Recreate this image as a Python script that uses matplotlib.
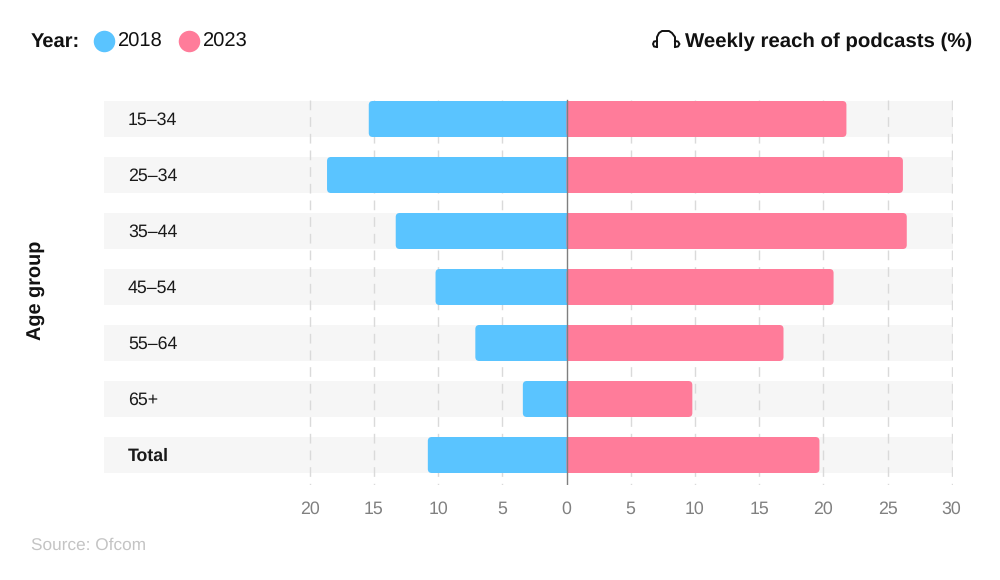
import matplotlib
matplotlib.use("Agg")
from matplotlib import pyplot as plt
from matplotlib.patches import FancyBboxPatch, Rectangle

plt.rcParams['font.family'] = ['Liberation Sans', 'DejaVu Sans']
plt.rcParams['text.hinting'] = 'no_hinting'

age_groups = ["15–34", "25–34", "35–44", "45–54", "55–64", "65+", "Total"]
reach_2018 = [15.4, 18.65, 13.3, 10.2, 7.1, 3.4, 10.8]
reach_2023 = [21.8, 26.2, 26.5, 20.8, 16.9, 9.8, 19.7]
x_ticks = [-20, -15, -10, -5, 0, 5, 10, 15, 20, 25, 30]

BLUE = "#5AC4FF"
PINK = "#FF7C9A"
ROW_BG = "#F6F6F6"
GRID = "#DADADA"
GREY_TEXT = "#808080"

W, H = 1000, 580
PX_PER_UNIT = 12.84
ROW_PX = 56
BAR_H = 36 / ROW_PX


def draw_bar(ax, row, value, color):
    """Bar from zero with rounded corners on the outer end only."""
    radius = 4 / PX_PER_UNIT
    x0 = min(0, value)
    box = FancyBboxPatch((x0, row - BAR_H / 2), abs(value), BAR_H,
                         boxstyle=f"round,pad=0,rounding_size={radius}",
                         mutation_aspect=PX_PER_UNIT / ROW_PX,
                         fc=color, ec="none", zorder=3)
    ax.add_patch(box)
    ax.add_patch(Rectangle((0, row - BAR_H / 2), value / 2, BAR_H,
                           fc=color, ec="none", zorder=3))


fig = plt.figure(figsize=(W / 100, H / 100), dpi=100)

# plot area in pixels: x 104-952, y 91-485
left, right, top, bottom = 104, 952.5, 91, 485
ax = fig.add_axes([left / W, 1 - bottom / H, (right - left) / W, (bottom - top) / H])
ax.set_xlim((left - 566.5) / PX_PER_UNIT, (right - 566.5) / PX_PER_UNIT)
ax.set_ylim((bottom - 119) / ROW_PX, (top - 119) / ROW_PX)
ax.patch.set_visible(False)
for s in ax.spines.values():
    s.set_visible(False)

for i, name in enumerate(age_groups):
    ax.barh(i, ax.get_xlim()[1] - ax.get_xlim()[0], left=ax.get_xlim()[0],
            height=BAR_H, color=ROW_BG, zorder=0)
    draw_bar(ax, i, -reach_2018[i], BLUE)
    draw_bar(ax, i, reach_2023[i], PINK)

for t in x_ticks:
    if t != 0:
        ax.plot([t, t], [(100 - 119) / ROW_PX, (bottom - 119) / ROW_PX], color=GRID, lw=1,
                dashes=(7, 5), zorder=1)
ax.plot([0, 0], [(100 - 119) / ROW_PX, (bottom - 119) / ROW_PX], color="#7F7F7F", lw=1, zorder=4)

ax.set_xticks(x_ticks)
ax.set_xticklabels([str(abs(t)) for t in x_ticks], fontsize=12.8, color=GREY_TEXT)
ax.tick_params(axis='x', length=0, pad=11.5)
ax.set_yticks([])

# overlay in pixel coordinates for legend, titles and icon
ov = fig.add_axes([0, 0, 1, 1])
ov.set_xlim(0, W)
ov.set_ylim(H, 0)
ov.axis("off")
ov.patch.set_visible(False)

for i, name in enumerate(age_groups):
    ov.text(128, 120.5 + i * ROW_PX, name, fontsize=12.8, color="#1A1A1A", va="center",
            fontweight="bold" if name == "Total" else "normal")

ov.text(31, 42, "Year:", fontsize=14.5, fontweight="bold", color="#111111", va="center")
ov.scatter([103.5], [41], s=240, color=BLUE, lw=0)
ov.text(118, 42, "2018", fontsize=14.5, color="#111111", va="center")
ov.scatter([188.5], [41], s=240, color=PINK, lw=0)
ov.text(203, 42, "2023", fontsize=14.5, color="#111111", va="center")

ov.text(972, 42, "Weekly reach of podcasts (%)", fontsize=14.7, fontweight="bold", color="#111111",
        va="center", ha="right")

# headphones icon
ov.plot([657, 657, 659, 662, 669, 672, 675, 675], [47, 37, 33, 31, 31, 33, 37, 47],
        color="#111111", lw=1.4, solid_capstyle="round")
ov.plot([657, 654, 653, 654, 657], [41, 41.5, 44, 46.5, 47], color="#111111", lw=1.4)
ov.plot([675, 678, 679.5, 678, 675], [41, 41.5, 44, 46.5, 47], color="#111111", lw=1.4)

ov.text(37, 290, "Age group", fontsize=14.3, fontweight="bold", color="#111111", rotation=90,
        va="center", ha="center")
ov.text(31, 545, "Source: Ofcom", fontsize=12.4, color="#C4C4C4", va="center")

fig.savefig("out.png", dpi=100)
